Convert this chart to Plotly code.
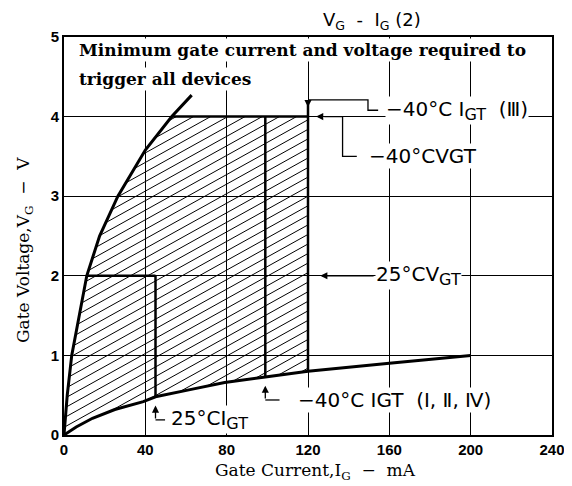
import numpy as np
import plotly.graph_objects as go

# ---------------- data ----------------
upper_I = [0, 1.6, 3.8, 7.6, 11.2, 17.5, 26.5, 40, 53, 62.8]          # mA
upper_V = [0, 0.5, 1.0, 1.5, 2.0, 2.5, 3.0, 3.58, 4.0, 4.27]         # V
lower_I = [0, 6, 14, 25, 39, 45, 62, 79, 99, 120, 160, 200]           # mA
lower_V = [0, 0.10, 0.21, 0.32, 0.42, 0.48, 0.57, 0.66, 0.73, 0.80, 0.90, 1.00]

I_GT_25 = 45.0      # 25 C IGT
V_GT_25 = 2.0       # 25 C VGT
I_GT_40 = 99.0      # -40 C IGT (I, II, IV)
I_GT_40_III = 120.0 # -40 C IGT (III)
V_GT_40 = 4.0       # -40 C VGT

x_ticks = [0, 40, 80, 120, 160, 200, 240]
y_ticks = [0, 1, 2, 3, 4, 5]

# ---------------- geometry helpers ----------------
PAGE_OFF = 8                      # default body margin of the html page
W, H = 572 - PAGE_OFF, 486 - PAGE_OFF
X0, X1, Y0, Y1 = 64, 552, 37, 435  # plot area in screen pixels
L_M, R_M, T_M, B_M = X0 - PAGE_OFF, 572 - X1, Y0 - PAGE_OFF, 486 - Y1


def px(xpix):
    return (xpix - X0) / (X1 - X0)


def py(ypix):
    return (Y1 - ypix) / (Y1 - Y0)


def low(x):
    return np.interp(x, lower_I, lower_V)


def up(x):
    return np.interp(x, upper_I, upper_V)


def up_inv(v):
    return np.interp(v, upper_V, upper_I)


# hatch lines inside the region bounded by the curves, 4 V and 120 mA
hatch_slope = 0.0142
hatch_step = 0.12
xs = np.linspace(0, I_GT_40_III, 3001)
top = np.minimum(up(xs), V_GT_40)
bot = low(xs)
hx, hy = [], []
for c in np.arange(-hatch_slope * I_GT_40_III, V_GT_40, hatch_step):
    yl = hatch_slope * xs + c
    inside = (yl >= bot) & (yl <= top)
    edges = np.flatnonzero(np.diff(np.concatenate([[0], inside.astype(int), [0]])))
    for s, e in zip(edges[::2], edges[1::2]):
        if e - 1 > s:
            hx += [xs[s], xs[e - 1], None]
            hy += [yl[s], yl[e - 1], None]

fig = go.Figure()
blk = "black"
fig.add_trace(go.Scatter(x=hx, y=hy, mode="lines", line=dict(color=blk, width=1),
                         hoverinfo="skip", showlegend=False))
fig.add_trace(go.Scatter(x=upper_I, y=upper_V, mode="lines",
                         line=dict(color=blk, width=3), showlegend=False))
fig.add_trace(go.Scatter(x=lower_I, y=lower_V, mode="lines",
                         line=dict(color=blk, width=3), showlegend=False))

lead_top = 4.21
thick = [
    ([I_GT_25, I_GT_25], [low(I_GT_25), V_GT_25]),
    ([up_inv(V_GT_25), I_GT_25], [V_GT_25, V_GT_25]),
    ([I_GT_40, I_GT_40], [low(I_GT_40), V_GT_40]),
    ([up_inv(V_GT_40), I_GT_40_III], [V_GT_40, V_GT_40]),
    ([I_GT_40_III, I_GT_40_III], [low(I_GT_40_III), lead_top]),
]
for xx, yy in thick:
    fig.add_trace(go.Scatter(x=xx, y=yy, mode="lines", line=dict(color=blk, width=2.5),
                             showlegend=False))

# leader lines
leaders = [
    ([154.5, 149.5, 149.5, I_GT_40_III], [4.08, 4.08, lead_top, lead_top]),
    ([144, 137, 137, 128], [3.5, 3.5, V_GT_40, V_GT_40]),
    ([49.7, I_GT_25], [0.19, 0.19]),
    ([106, I_GT_40], [0.44, 0.44]),
]
for xx, yy in leaders:
    fig.add_trace(go.Scatter(x=xx, y=yy, mode="lines", line=dict(color=blk, width=1.3),
                             showlegend=False))

arrows = [
    (I_GT_40_III, lead_top, I_GT_40_III, 4.12),
    (128, V_GT_40, 124, V_GT_40),
    (153, V_GT_25, 126, V_GT_25),
    (I_GT_25, 0.19, I_GT_25, 0.37),
    (I_GT_40, 0.44, I_GT_40, 0.62),
]
anns = []
for ax_, ay_, x_, y_ in arrows:
    anns.append(dict(x=x_, y=y_, ax=ax_, ay=ay_, xref="x", yref="y", axref="x", ayref="y",
                     text="", showarrow=True, arrowhead=2, arrowsize=1.1, arrowwidth=1.3,
                     arrowcolor=blk))

SUB = "<sub><span style='font-size:16px'>GT</span></sub>"
lab_font = dict(family="DejaVu Sans", size=20, color=blk)
labels = [
    ("−40°C I" + SUB + "  (Ⅲ)", 158.0, 4.08),
    ("−40°CVGT", 149.5, 3.5),
    ("25°CV" + SUB, 153.0, V_GT_25),
    ("25°CI" + SUB, 52.0, 0.19),
    ("−40°C IGT  (Ⅰ, Ⅱ, Ⅳ)", 114.6, 0.44),
]
for t, x_, y_ in labels:
    anns.append(dict(x=x_, y=y_, xref="x", yref="y", text=t, showarrow=False,
                     xanchor="left", yanchor="middle", font=lab_font,
                     bgcolor="white", borderpad=0))

note_font = dict(family="DejaVu Serif", size=17, color=blk, weight="bold")
anns.append(dict(x=px(77), y=py(50), xref="paper", yref="paper", showarrow=False,
                 text="Minimum gate current and voltage required to", xanchor="left",
                 yanchor="middle", font=note_font, bgcolor="white", borderpad=1))
anns.append(dict(x=px(77), y=py(79), xref="paper", yref="paper", showarrow=False,
                 text="trigger all devices", xanchor="left", yanchor="middle",
                 font=note_font, bgcolor="white", borderpad=1))

anns.append(dict(x=px(372), y=py(21), xref="paper", yref="paper", showarrow=False,
                 text="V<sub>G</sub>  -  I<sub>G</sub> (2)", xanchor="center", yanchor="middle",
                 font=dict(family="DejaVu Sans", size=18, color=blk)))
ax_font = dict(family="DejaVu Serif", size=17, color=blk)
anns.append(dict(x=px(315), y=py(471), xref="paper", yref="paper", showarrow=False,
                 text="Gate Current,I<sub>G</sub>  −  mA", xanchor="center", yanchor="middle",
                 font=ax_font))
anns.append(dict(x=px(24), y=py(250), xref="paper", yref="paper", showarrow=False,
                 text="Gate Voltage,V<sub>G</sub>  −  V", xanchor="center", yanchor="middle",
                 textangle=-90, font=ax_font))

axis_common = dict(showgrid=True, gridcolor=blk, gridwidth=1, showline=True, linecolor=blk,
                   linewidth=2, mirror=True, ticks="", zeroline=False, automargin=False,
                   tickfont=dict(family="Liberation Sans", size=15, color=blk, weight="bold"))
fig.update_layout(
    width=W, height=H, margin=dict(l=L_M, r=R_M, t=T_M, b=B_M, autoexpand=False),
    paper_bgcolor="white", plot_bgcolor="white", showlegend=False,
    xaxis=dict(range=[0, 240], tickvals=x_ticks, ticktext=[str(v) for v in x_ticks], **axis_common),
    yaxis=dict(range=[0, 5], tickvals=y_ticks, ticktext=[str(v) for v in y_ticks], **axis_common),
    annotations=anns,
)
fig.write_html("out.html")
